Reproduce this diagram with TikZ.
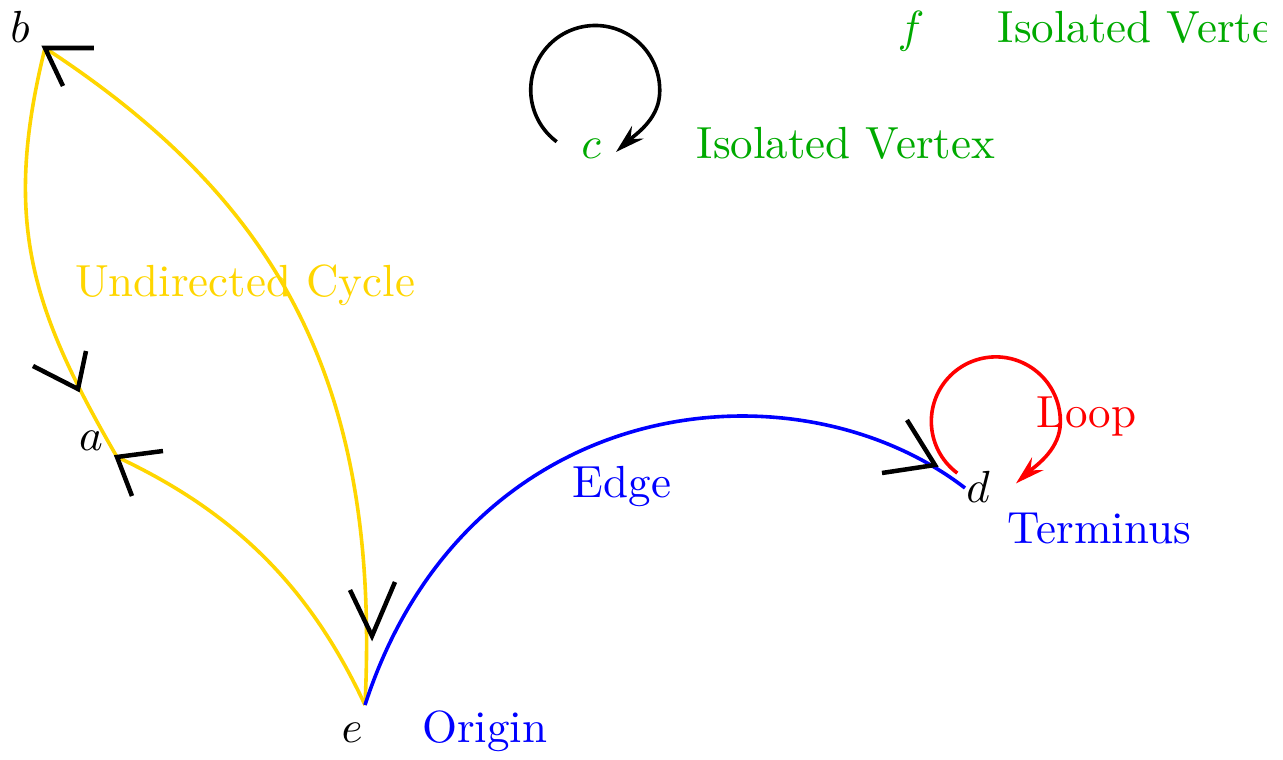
\documentclass[tikz,border=0pt]{standalone}
\usetikzlibrary{arrows.meta}
\definecolor{cyc}{RGB}{255,214,0}
\definecolor{isogreen}{RGB}{0,170,0}
\begin{document}
\begin{tikzpicture}[x=0.2222pt,y=0.2222pt,
  cycleedge/.style={draw=cyc, line width=0.8pt},
  plainedge/.style={draw=blue, line width=0.8pt},
  loopedge/.style={line width=0.8pt, -{Stealth[length=6.5pt,width=3.8pt,inset=2.2pt]}},
  vtip/.style={draw=black, line width=1pt, line join=miter},
  lbl/.style={inner sep=0pt, outer sep=0pt}
]
\useasboundingbox (0,0) rectangle (1283,-760);
\clip (0,0) rectangle (1267,-760);

% vertices
\coordinate (b) at (45,-48);
\coordinate (a) at (117,-457);
\coordinate (e) at (365,-705);
\coordinate (d) at (965,-488);
\coordinate (cs) at (556.7,-141.7);
\coordinate (ctip) at (616,-152);
\coordinate (ds) at (957.3,-473.1);
\coordinate (dtip) at (1016,-483.4);

% vertex labels
\node[lbl, anchor=base] (lb) at (20,-42) {$b$};
\node[lbl, anchor=base] (la) at (91,-451) {$a$};
\node[lbl, anchor=base] (le) at (352,-743) {$e$};
\node[lbl, anchor=base] (ld) at (978,-503) {$d$};
\node[lbl, anchor=base, text=isogreen] (lc) at (591,-158) {$c$};
\node[lbl, anchor=base, text=isogreen] (lf) at (911,-42) {$f$};

% text labels
\node[lbl, anchor=base west, text=isogreen] (iso1) at (998,-42) {Isolated Vertex};
\node[lbl, anchor=base west, text=isogreen] (iso2) at (697,-158) {Isolated Vertex};
\node[lbl, anchor=base west, text=cyc] (ucyc) at (75,-297) {Undirected Cycle};
\node[lbl, anchor=base west, text=blue] (edge) at (573,-498) {Edge};
\node[lbl, anchor=base west, text=blue] (term) at (1008,-543) {Terminus};
\node[lbl, anchor=base west, text=blue] (orig) at (422,-743) {Origin};
\node[lbl, anchor=base west, text=red] (loop) at (1037,-428) {Loop};

% undirected cycle (yellow)
\draw[cycleedge] (e) .. controls (381,-380) and (276,-199) .. (b);
\draw[cycleedge] (b) .. controls (1.8,-222.6) and (32,-310) .. (a);
\draw[cycleedge] (e) .. controls (310,-587.2) and (234.8,-512) .. (a);

% edge e -> d (blue)
\draw[plainedge] (e) .. controls (467,-391) and (795,-357) .. (d);

% loops
\draw[loopedge, draw=black, fill=none] (cs) arc[start angle=233.3, end angle=-5, radius=64.5]
  .. controls (657.4,-120.5) and (634.5,-135.25) .. (ctip);
\draw[loopedge, draw=red, fill=none] (ds) arc[start angle=233.3, end angle=-5, radius=64.5]
  .. controls (1057.4,-451.9) and (1034.5,-466.65) .. (dtip);

% direction marks
\coordinate (m2) at (78,-389);
\coordinate (m4) at (372,-636);
\coordinate (m5) at (935,-465);
\draw[vtip] (94,-48) -- (b) -- (63,-86);
\draw[vtip] (33,-366) -- (m2) -- (86,-351);
\draw[vtip] (163,-451) -- (a) -- (132,-496);
\draw[vtip] (350,-590) -- (m4) -- (395,-582);
\draw[vtip] (882,-473) -- (m5) -- (907,-420);
\end{tikzpicture}
\end{document}
